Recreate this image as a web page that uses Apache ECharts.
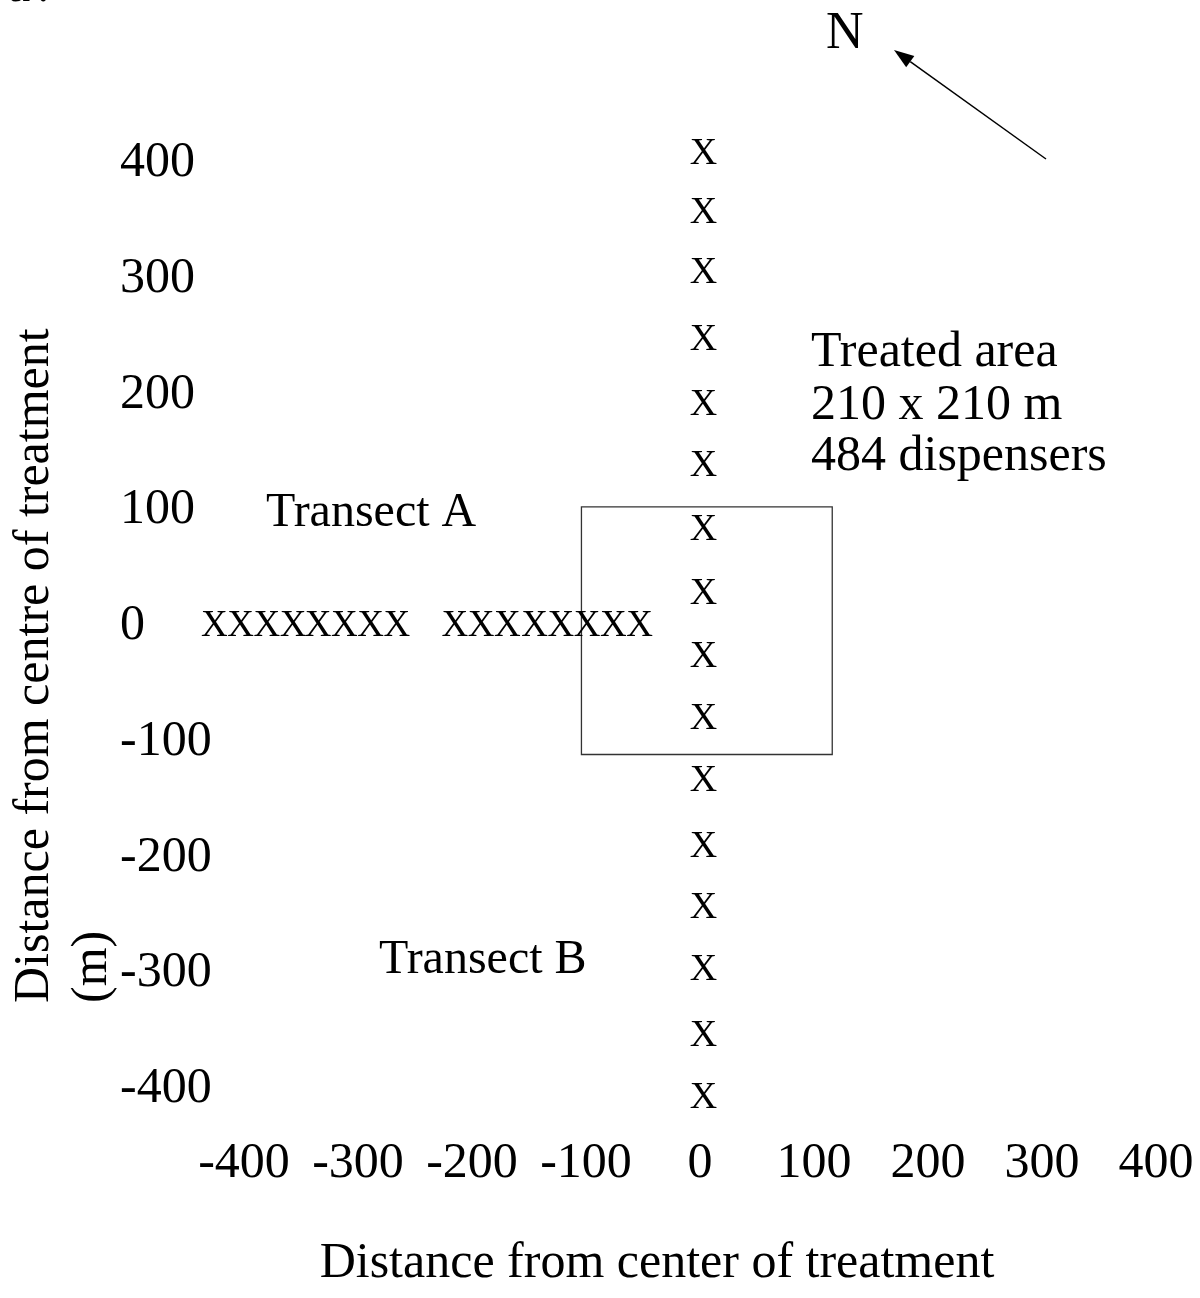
<!DOCTYPE html>
<html>
<head>
<meta charset="utf-8">
<script src="https://cdn.jsdelivr.net/npm/echarts@6/dist/echarts.min.js"></script>
<style>
  html, body { margin: 0; padding: 0; background: #fff; }
  #chart { width: 1200px; height: 1298px; }
</style>
</head>
<body>
<div id="chart"></div>
<script>
// ---- data ----
const axisMin = -400;
const axisMax = 400;
const tickStep = 100;

// Transect B: vertical line of traps (x, y in metres)
const transectBX = [3, 3, 3, 3, 3, 3, 3, 3, 3, 3, 3, 3, 3, 3, 3, 3];
const transectBY = [408, 357, 305, 247, 191, 138, 83, 28, -27, -80, -134, -191, -244, -297, -354, -408];

// Transect A: horizontal line of traps
const transectAX = [-426, -403, -380, -357, -335, -312, -289, -266,
                    -215, -192, -169, -145, -122, -99, -76, -53];
const transectAY = [0, 0, 0, 0, 0, 0, 0, 0, 0, 0, 0, 0, 0, 0, 0, 0];

// Treated area outline (corner coordinates)
const treatedBox = [[-104, 103], [116, -111]];

const markText = 'X';
const xTitle = 'Distance from center of treatment';
const yTitleLines = ['Distance from centre of treatment', '(m)'];
const treatedLines = ['Treated area', '210 x 210 m', '484 dispensers'];
const transectLabels = ['Transect A', 'Transect B'];

// ---- chart ----
const FONT = "'Liberation Serif', 'Times New Roman', serif";
const chart = echarts.init(document.getElementById('chart'), null, { renderer: 'canvas' });

const ptsB = transectBX.map((x, i) => [x, transectBY[i]]);
const ptsA = transectAX.map((x, i) => [x, transectAY[i]]);

function txt(text, x, y, size, extra) {
  return Object.assign({
    type: 'text',
    x: x, y: y,
    style: {
      text: text,
      font: size + 'px ' + FONT,
      fill: '#000',
      textAlign: 'left',
      textVerticalAlign: 'middle'
    }
  }, extra || {});
}

function markLabel(size) {
  return {
    show: true, position: 'inside', formatter: markText,
    color: '#000', fontSize: size, fontFamily: FONT,
    textBorderWidth: 0, textBorderColor: 'transparent', textShadowBlur: 0, opacity: 1
  };
}

// arrow geometry
const tail = [1046, 159], tip = [894, 50];
const dx = tip[0] - tail[0], dy = tip[1] - tail[1];
const len = Math.sqrt(dx * dx + dy * dy);
const ux = dx / len, uy = dy / len;
const headLen = 20, headHalf = 7;
const base = [tip[0] - ux * headLen, tip[1] - uy * headLen];
const p1 = [base[0] - uy * headHalf, base[1] + ux * headHalf];
const p2 = [base[0] + uy * headHalf, base[1] - ux * headHalf];

const option = {
  backgroundColor: '#fff',
  animation: false,
  grid: { left: 244, right: 44, top: 163, bottom: 209, containLabel: false, outerBoundsMode: 'none' },
  xAxis: {
    type: 'value', min: axisMin, max: axisMax, interval: tickStep,
    axisLine: { show: false }, axisTick: { show: false }, splitLine: { show: false },
    axisLabel: { show: true, interval: 0, margin: 50, color: '#000', fontSize: 50, fontFamily: FONT, hideOverlap: false }
  },
  yAxis: {
    type: 'value', min: axisMin, max: axisMax, interval: tickStep,
    axisLine: { show: false }, axisTick: { show: false }, splitLine: { show: false },
    axisLabel: { show: true, margin: 124, align: 'left', color: '#000', fontSize: 50, fontFamily: FONT, hideOverlap: false }
  },
  series: [
    {
      name: 'Transect B', type: 'scatter', data: ptsB, clip: false,
      symbol: 'circle', symbolSize: 1, itemStyle: { color: 'rgba(255,255,255,0)' },
      label: markLabel(38),
      markArea: {
        silent: true,
        itemStyle: { color: 'rgba(0,0,0,0)', borderColor: '#333', borderWidth: 1.3 },
        label: { show: false },
        data: [[{ coord: treatedBox[0] }, { coord: treatedBox[1] }]]
      }
    },
    {
      name: 'Transect A', type: 'scatter', data: ptsA, clip: false,
      symbol: 'circle', symbolSize: 1, itemStyle: { color: 'rgba(255,255,255,0)' },
      label: markLabel(37)
    }
  ],
  graphic: [
    // y-axis title, rotated
    txt(yTitleLines[0], 35, 1003, 50, { rotation: Math.PI / 2 }),
    txt(yTitleLines[1], 93, 1003, 50, { rotation: Math.PI / 2 }),
    // x-axis title
    { type: 'text', x: 657, y: 1264, style: { text: xTitle, font: '50px ' + FONT, fill: '#000', textAlign: 'center', textVerticalAlign: 'middle' } },
    // treated area annotation
    txt(treatedLines[0], 811, 353, 50),
    txt(treatedLines[1], 811, 406, 50),
    txt(treatedLines[2], 811, 457, 50),
    // transect labels
    txt(transectLabels[0], 266, 513, 48),
    txt(transectLabels[1], 379, 960, 48),
    // north
    txt('N', 826, 34, 52),
    { type: 'line', shape: { x1: tail[0], y1: tail[1], x2: base[0], y2: base[1] }, style: { stroke: '#000', lineWidth: 1.5 } },
    { type: 'polygon', shape: { points: [tip, p1, p2] }, style: { fill: '#000' } },
    // panel letter (cut off at top edge)
    txt('a', 8, -12, 50),
    txt('.', 37, -12, 50)
  ]
};
chart.setOption(option);
</script>
</body>
</html>
